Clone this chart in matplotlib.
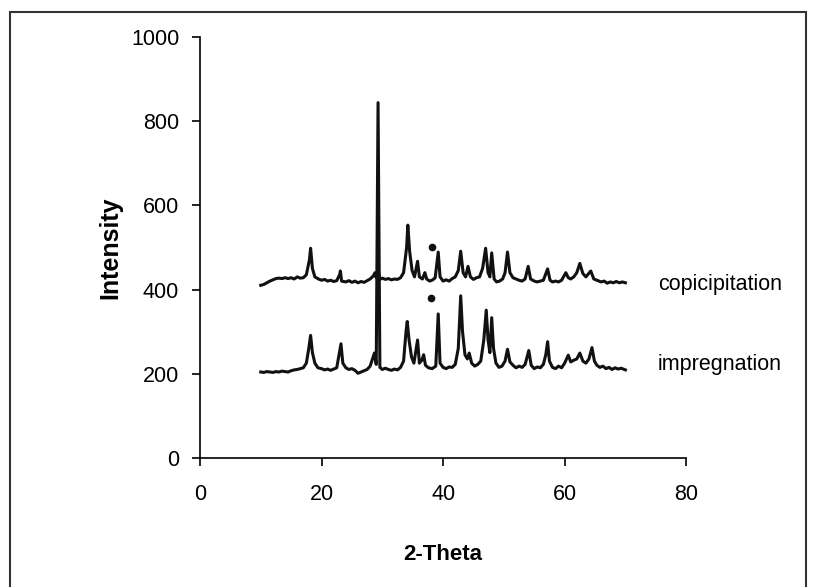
import numpy as np
import matplotlib
matplotlib.use("Agg")
import matplotlib.pyplot as plt
from matplotlib.patches import Rectangle

plt.rcParams['font.family'] = ['Liberation Sans', 'DejaVu Sans']

# Traces (2-Theta, Intensity vertices)
cop_x = [10.0, 10.5, 11.0, 11.5, 12.0, 12.5, 13.0, 13.5, 14.0, 14.5, 15.0, 15.5, 16.0, 16.5,
         17.0, 17.5, 18.0, 18.2, 18.5, 18.9, 19.5, 20.0, 20.5, 21.0, 21.5, 22.0, 22.5, 23.0,
         23.1, 23.3, 24.0, 24.5, 25.0, 25.5, 26.0, 26.5, 27.0, 27.5, 28.0, 28.5, 28.8, 29.0,
         29.3, 29.6, 30.0, 30.5, 31.0, 31.5, 32.0, 32.5, 33.0, 33.5, 34.0, 34.2, 34.5, 34.9,
         35.3, 35.8, 36.1, 36.6, 37.0, 37.3, 37.8, 38.3, 38.7, 39.2, 39.5, 40.0, 40.5, 41.0,
         41.5, 42.0, 42.5, 42.9, 43.3, 43.7, 44.1, 44.5, 45.0, 45.5, 46.0, 46.5, 47.0, 47.4,
         47.7, 48.0, 48.4, 48.8, 49.3, 49.8, 50.2, 50.6, 51.0, 51.5, 52.0, 52.5, 53.0, 53.5,
         54.0, 54.4, 55.0, 55.5, 56.0, 56.5, 57.2, 57.6, 58.0, 58.5, 59.0, 59.5, 60.2, 60.6,
         61.0, 61.5, 62.0, 62.5, 63.0, 63.5, 64.3, 64.8, 65.3, 66.0, 66.5, 67.0, 67.5, 68.0,
         68.5, 69.0, 69.5, 70.0]
cop_y = [410, 412, 416, 420, 423, 426, 427, 426, 428, 426, 428, 425, 430, 427,
         428, 435, 470, 498, 450, 430, 425, 422, 424, 420, 422, 419, 421, 436,
         444, 420, 418, 421, 417, 420, 416, 419, 417, 421, 425, 432, 440, 428,
         445, 424, 427, 424, 426, 423, 425, 424, 428, 440, 500, 553, 490, 445,
         430, 467, 430, 425, 440, 425, 420, 423, 428, 489, 430, 420, 423, 420,
         426, 430, 445, 491, 440, 430, 455, 430, 424, 428, 430, 450, 498, 440,
         430, 487, 425, 418, 420, 425, 440, 489, 440, 428, 425, 422, 420, 425,
         455, 425, 420, 418, 420, 422, 449, 422, 418, 420, 418, 422, 440, 428,
         425, 430, 440, 462, 438, 430, 444, 425, 422, 418, 420, 415, 418, 416,
         419, 416, 418, 416]

imp_x = [10.0, 10.5, 11.0, 11.5, 12.0, 12.5, 13.0, 13.5, 14.0, 14.5, 15.0, 15.5, 16.0, 16.5,
         17.0, 17.5, 17.9, 18.2, 18.5, 18.9, 19.4, 20.0, 20.5, 21.0, 21.5, 22.0, 22.5, 23.0,
         23.2, 23.5, 24.0, 24.5, 25.0, 25.5, 26.0, 26.5, 27.0, 27.5, 28.0, 28.5, 28.7, 29.0,
         29.3, 29.6, 30.0, 30.5, 31.0, 31.5, 32.0, 32.5, 33.0, 33.5, 33.9, 34.1, 34.4, 34.8,
         35.2, 35.8, 36.1, 36.5, 36.8, 37.1, 37.6, 38.2, 38.8, 39.2, 39.5, 40.0, 40.5, 41.0,
         41.5, 42.0, 42.5, 42.9, 43.2, 43.6, 44.0, 44.3, 44.7, 45.2, 45.7, 46.2, 46.7, 47.1,
         47.4, 47.7, 48.0, 48.3, 48.7, 49.2, 49.7, 50.2, 50.6, 51.0, 51.5, 52.0, 52.5, 53.0,
         53.5, 54.1, 54.5, 55.0, 55.5, 56.0, 56.5, 56.9, 57.2, 57.5, 58.0, 58.5, 59.0, 59.5,
         60.0, 60.6, 61.0, 61.5, 62.0, 62.5, 63.0, 63.5, 64.0, 64.5, 64.9, 65.3, 65.8, 66.3,
         66.8, 67.3, 67.8, 68.3, 68.8, 69.3, 70.0]
imp_y = [204, 203, 205, 204, 203, 205, 204, 206, 205, 204, 207, 209, 210, 212,
         214, 225, 260, 291, 250, 225, 214, 212, 209, 211, 208, 211, 214, 255,
         271, 225, 214, 210, 212, 208, 201, 204, 207, 210, 218, 240, 249, 222,
         844, 215, 210, 213, 210, 208, 211, 209, 215, 230, 300, 324, 280, 240,
         225, 280, 225, 232, 245, 220, 214, 212, 218, 342, 225, 215, 212, 216,
         215, 222, 260, 385, 300, 245, 235, 249, 225, 218, 222, 230, 280, 351,
         280, 250, 333, 260, 225, 215, 218, 230, 258, 228, 220, 214, 218, 215,
         222, 255, 220, 212, 216, 214, 222, 245, 276, 230, 215, 212, 218, 214,
         225, 244, 228, 232, 235, 249, 230, 225, 235, 262, 230, 220, 215, 218,
         212, 215, 210, 214, 211, 213, 209]

# marked peaks (dots)
dot_x = [38.2, 38.0]
dot_y = [500, 380]

labels = ['copicipitation', 'impregnation']
label_pos = [(75.4, 411), (75.3, 222)]

fig = plt.figure(figsize=(8.13, 5.87), dpi=100)
ax = fig.add_axes([0.246, 0.22, 0.598, 0.717])

ax.plot(cop_x, cop_y, color='#111111', lw=2.2)
ax.plot(imp_x, imp_y, color='#111111', lw=2.2)
ax.plot(dot_x, dot_y, 'o', color='#111111', ms=4.5)

for txt, (lx, ly) in zip(labels, label_pos):
    ax.text(lx, ly, txt, fontsize=15.5, va='center', ha='left')

ax.set_xlim(0, 80)
ax.set_ylim(0, 1000)
ax.set_xticks([0, 20, 40, 60, 80])
ax.set_yticks([0, 200, 400, 600, 800, 1000])
ax.spines['top'].set_visible(False)
ax.spines['right'].set_visible(False)
ax.spines['left'].set_linewidth(1.2)
ax.spines['bottom'].set_linewidth(1.2)
ax.tick_params(direction='out', length=6, width=1.2, labelsize=15.5)
ax.tick_params(axis='x', pad=13)
ax.tick_params(axis='y', pad=9)
ax.set_xlabel('2-Theta', fontsize=16, fontweight='bold', labelpad=28)
ax.set_ylabel('Intensity', fontsize=18, fontweight='bold', labelpad=6)

# outer chart frame
fig.patches.append(Rectangle((10 / 813, -0.02), 796 / 813, 1.02 - 12 / 587,
                             transform=fig.transFigure, fill=False,
                             edgecolor='#333333', lw=1.5))

fig.savefig('out.png', dpi=100)
